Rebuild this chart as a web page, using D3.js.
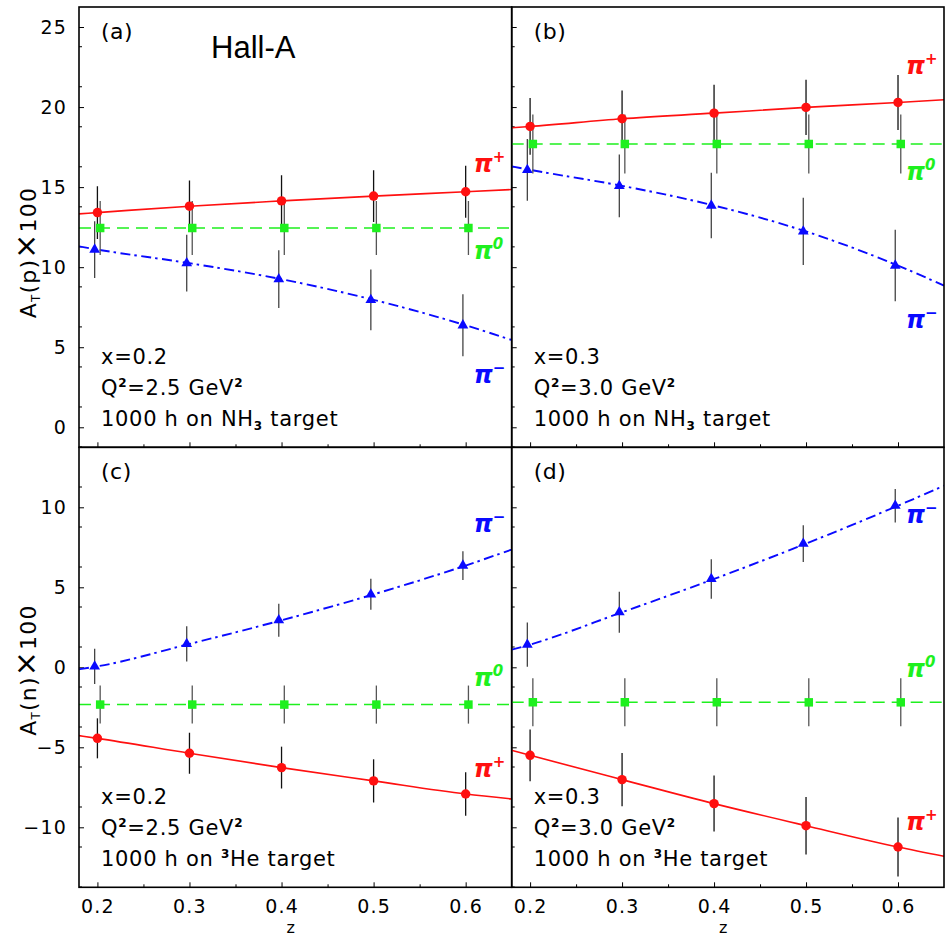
<!DOCTYPE html>
<html>
<head>
<meta charset="utf-8">
<script src="https://cdn.jsdelivr.net/npm/d3@7"></script>
<style>
  html, body { margin: 0; padding: 0; background: #fff; }
  svg { display: block; }
</style>
</head>
<body>
<svg id="chart" width="945" height="936"></svg>
<script>
// ---- data -------------------------------------------------------------
const zPoints = [0.2, 0.3, 0.4, 0.5, 0.6];
const zCurve  = [0.18, 0.2, 0.3, 0.4, 0.5, 0.6, 0.65];
const xTicks  = [0.2, 0.3, 0.4, 0.5, 0.6];
const yTicksProton  = [0, 5, 10, 15, 20, 25];
const yTicksNeutron = [-10, -5, 0, 5, 10];

// (a) proton, x=0.2
const aPlus      = [13.41, 13.81, 14.14, 14.44, 14.71];
const aPlusErr   = [1.65, 1.60, 1.60, 1.62, 1.62];
const aZero      = [12.45, 12.45, 12.45, 12.45, 12.45];
const aZeroErr   = [1.69, 1.69, 1.69, 1.69, 1.69];
const aMinus     = [11.10, 10.25, 9.25, 7.96, 6.37];
const aMinusErr  = [1.77, 1.77, 1.80, 1.90, 1.94];
const aPlusCurve  = [13.33, 13.41, 13.81, 14.14, 14.44, 14.71, 14.85];
const aZeroCurve  = [12.45, 12.45, 12.45, 12.45, 12.45, 12.45, 12.45];
const aMinusCurve = [11.30, 11.10, 10.25, 9.25, 7.96, 6.37, 5.45];

// (b) proton, x=0.3
const bPlus      = [18.79, 19.27, 19.62, 19.98, 20.29];
const bPlusErr   = [1.77, 1.77, 1.77, 1.73, 1.72];
const bZero      = [17.69, 17.69, 17.69, 17.69, 17.69];
const bZeroErr   = [1.84, 1.84, 1.84, 1.84, 1.84];
const bMinus     = [16.08, 15.08, 13.85, 12.23, 10.10];
const bMinusErr  = [1.93, 1.96, 2.05, 2.10, 2.23];
const bPlusCurve  = [18.71, 18.79, 19.27, 19.62, 19.98, 20.29, 20.46];
const bZeroCurve  = [17.69, 17.69, 17.69, 17.69, 17.69, 17.69, 17.69];
const bMinusCurve = [16.30, 16.08, 15.08, 13.85, 12.23, 10.10, 8.85];

// (c) neutron, x=0.2
const cPlus      = [-4.44, -5.37, -6.27, -7.10, -7.92];
const cPlusErr   = [1.25, 1.28, 1.31, 1.35, 1.36];
const cZero      = [-2.33, -2.33, -2.33, -2.33, -2.33];
const cZeroErr   = [1.19, 1.19, 1.19, 1.19, 1.19];
const cMinus     = [0.06, 1.46, 2.94, 4.56, 6.36];
const cMinusErr  = [1.10, 1.10, 1.03, 0.97, 0.90];
const cPlusCurve  = [-4.27, -4.44, -5.37, -6.27, -7.10, -7.92, -8.23];
const cZeroCurve  = [-2.33, -2.33, -2.33, -2.33, -2.33, -2.33, -2.33];
const cMinusCurve = [-0.12, 0.06, 1.46, 2.94, 4.56, 6.36, 7.36];

// (d) neutron, x=0.3
const dPlus      = [-5.50, -7.02, -8.52, -9.90, -11.23];
const dPlusErr   = [1.62, 1.67, 1.75, 1.80, 1.84];
const dZero      = [-2.19, -2.19, -2.19, -2.19, -2.19];
const dZeroErr   = [1.50, 1.50, 1.50, 1.50, 1.50];
const dMinus     = [1.42, 3.44, 5.52, 7.73, 10.10];
const dMinusErr  = [1.38, 1.28, 1.24, 1.15, 1.05];
const dPlusCurve  = [-5.19, -5.50, -7.02, -8.52, -9.90, -11.23, -11.81];
const dZeroCurve  = [-2.19, -2.19, -2.19, -2.19, -2.19, -2.19, -2.19];
const dMinusCurve = [1.10, 1.42, 3.44, 5.52, 7.73, 10.10, 11.35];

const panelTags = ["(a)", "(b)", "(c)", "(d)"];
const kinematics = [
  {x: "0.2", q2: "2.5", target: "NH3"},
  {x: "0.3", q2: "3.0", target: "NH3"},
  {x: "0.2", q2: "2.5", target: "3He"},
  {x: "0.3", q2: "3.0", target: "3He"}
];

// ---- layout -----------------------------------------------------------
const svg = d3.select("#chart");
const cols = [[79, 511.7], [511.7, 944]];
const rows = [[7, 447.3], [447.3, 887.3]];
const xDomain = [0.18, 0.65];
const yDomains = [[-1.25, 26.25], [-13.75, 13.75]];

const RED = "#ff1010", GREEN = "#1ef01e", BLUE = "#0a0aff";
const tickFont = "'DejaVu Sans', sans-serif";

const series = {
  plus:  {color: RED,   bar: "#111", symbol: d3.symbolCircle,   size: 70, dz: 0,      dash: null,      width: 1.6},
  zero:  {color: GREEN, bar: "#555", symbol: d3.symbolSquare,   size: 72, dz: 0.003,  dash: "12,7",    width: 1.5},
  minus: {color: BLUE,  bar: "#444", symbol: d3.symbolTriangle, size: 50, dz: -0.003, dash: "10,4,2.5,4.5", width: 1.9}
};

const panels = [
  {col: 0, row: 0, plus: [aPlus, aPlusErr, aPlusCurve], zero: [aZero, aZeroErr, aZeroCurve], minus: [aMinus, aMinusErr, aMinusCurve],
   labels: {plus: 172, zero: 259, minus: 383}},
  {col: 1, row: 0, plus: [bPlus, bPlusErr, bPlusCurve], zero: [bZero, bZeroErr, bZeroCurve], minus: [bMinus, bMinusErr, bMinusCurve],
   labels: {plus: 74, zero: 180, minus: 328}},
  {col: 0, row: 1, plus: [cPlus, cPlusErr, cPlusCurve], zero: [cZero, cZeroErr, cZeroCurve], minus: [cMinus, cMinusErr, cMinusCurve],
   labels: {plus: 777, zero: 686, minus: 532}},
  {col: 1, row: 1, plus: [dPlus, dPlusErr, dPlusCurve], zero: [dZero, dZeroErr, dZeroCurve], minus: [dMinus, dMinusErr, dMinusCurve],
   labels: {plus: 830, zero: 677, minus: 523}}
];

const superscripts = {plus: "+", zero: "0", minus: "\u2212"};

panels.forEach((p, i) => {
  const [x0, x1] = cols[p.col];
  const [y0, y1] = rows[p.row];
  const x = d3.scaleLinear().domain(xDomain).range([x0, x1]);
  const y = d3.scaleLinear().domain(yDomains[p.row]).range([y1, y0]);
  const g = svg.append("g");

  const clipId = "clip" + i;
  svg.append("clipPath").attr("id", clipId)
    .append("rect").attr("x", x0).attr("y", y0).attr("width", x1 - x0).attr("height", y1 - y0);

  // ticks (pointing inward)
  const majorY = p.row === 0 ? yTicksProton : yTicksNeutron;
  const minorY = d3.range(yDomains[p.row][0], yDomains[p.row][1] + 0.01, 2.5)
    .map(v => Math.round(v * 10) / 10).filter(v => !majorY.includes(v) && v > yDomains[p.row][0] && v < yDomains[p.row][1]);
  const yAxis = d3.axisLeft(y).tickValues(majorY).tickSize(-5).tickPadding(12)
    .tickFormat(p.col === 0 ? d3.format("d") : () => "");
  const ya = g.append("g").attr("transform", `translate(${x0},0)`).call(yAxis);
  ya.select(".domain").remove();
  ya.selectAll("text").attr("font-family", tickFont).attr("font-size", 19).attr("letter-spacing", 1.2).attr("fill", "#000");
  ya.selectAll("line").attr("stroke", "#000").attr("stroke-width", 1);
  const yMinor = g.append("g").attr("transform", `translate(${x0},0)`)
    .call(d3.axisLeft(y).tickValues(minorY).tickSize(-3).tickFormat(() => ""));
  yMinor.select(".domain").remove();
  yMinor.selectAll("line").attr("stroke", "#000");

  const xAxis = d3.axisBottom(x).tickValues(xTicks).tickSize(-5).tickPadding(12.5)
    .tickFormat(p.row === 1 ? d3.format(".1f") : () => "");
  const xa = g.append("g").attr("transform", `translate(0,${y1})`).call(xAxis);
  xa.select(".domain").remove();
  xa.selectAll("text").attr("font-family", tickFont).attr("font-size", 19).attr("letter-spacing", 1.2).attr("fill", "#000");
  xa.selectAll("line").attr("stroke", "#000");
  const xMinor = g.append("g").attr("transform", `translate(0,${y1})`)
    .call(d3.axisBottom(x).tickValues([0.25, 0.35, 0.45, 0.55]).tickSize(-3).tickFormat(() => ""));
  xMinor.select(".domain").remove();
  xMinor.selectAll("line").attr("stroke", "#000");

  const plot = g.append("g").attr("clip-path", `url(#${clipId})`);

  // model curves
  ["zero", "minus", "plus"].forEach(key => {
    const s = series[key];
    const curve = p[key][2];
    const line = d3.line().x((d, j) => x(zCurve[j])).y(d => y(d)).curve(d3.curveMonotoneX);
    plot.append("path").datum(curve)
      .attr("d", line).attr("fill", "none")
      .attr("stroke", s.color).attr("stroke-width", s.width)
      .attr("stroke-dasharray", s.dash);
  });

  // error bars
  ["zero", "minus", "plus"].forEach(key => {
    const s = series[key];
    const [vals, errs] = p[key];
    plot.append("g").selectAll("line").data(vals).join("line")
      .attr("x1", (d, j) => x(zPoints[j] + s.dz)).attr("x2", (d, j) => x(zPoints[j] + s.dz))
      .attr("y1", (d, j) => y(d - errs[j])).attr("y2", (d, j) => y(d + errs[j]))
      .attr("stroke", s.bar).attr("stroke-width", 1.3);
  });

  // markers
  ["zero", "minus", "plus"].forEach(key => {
    const s = series[key];
    const vals = p[key][0];
    plot.append("g").selectAll("path").data(vals).join("path")
      .attr("transform", (d, j) => `translate(${x(zPoints[j] + s.dz)},${y(d)})`)
      .attr("d", d3.symbol().type(s.symbol).size(s.size))
      .attr("fill", s.color);
  });

  // pion labels
  ["plus", "zero", "minus"].forEach(key => {
    const t = g.append("text")
      .attr("x", x1 - 38).attr("y", p.labels[key])
      .attr("font-family", tickFont).attr("font-size", 24)
      .attr("font-style", "italic").attr("font-weight", "bold")
      .attr("fill", series[key].color);
    t.append("tspan").text("\u03C0");
    t.append("tspan").attr("dy", -10).attr("font-size", 15).text(superscripts[key]);
  });

  // panel tag
  g.append("text").attr("x", x0 + 22).attr("y", y0 + 32)
    .attr("font-family", tickFont).attr("font-size", 22).attr("letter-spacing", 0.5)
    .text(panelTags[i]);

  // kinematic annotation
  const k = kinematics[i];
  const ann = g.append("g").attr("font-family", tickFont).attr("font-size", 21)
    .attr("letter-spacing", 0.7).attr("fill", "#000");
  const base = y0 + 357;
  ann.append("text").attr("x", x0 + 22).attr("y", base).text("x=" + k.x);
  const q = ann.append("text").attr("x", x0 + 22).attr("y", base + 31);
  q.append("tspan").text("Q");
  q.append("tspan").attr("dy", -8).attr("font-size", 12).attr("font-weight", "bold").text("2");
  q.append("tspan").attr("dy", 8).text("=" + k.q2 + " GeV");
  q.append("tspan").attr("dy", -8).attr("font-size", 12).attr("font-weight", "bold").text("2");
  const tl = ann.append("text").attr("x", x0 + 22).attr("y", base + 62);
  if (k.target === "NH3") {
    tl.append("tspan").text("1000 h on NH");
    tl.append("tspan").attr("dy", 4).attr("font-size", 12).attr("font-weight", "bold").text("3");
    tl.append("tspan").attr("dy", -4).text(" target");
  } else {
    tl.append("tspan").text("1000 h on ");
    tl.append("tspan").attr("dy", -8).attr("font-size", 12).attr("font-weight", "bold").text("3");
    tl.append("tspan").attr("dy", 8).text("He target");
  }

  // frame
  g.append("rect").attr("x", x0).attr("y", y0).attr("width", x1 - x0).attr("height", y1 - y0)
    .attr("fill", "none").attr("stroke", "#000").attr("stroke-width", 1.6);

  // z label under bottom panels
  if (p.row === 1) {
    g.append("text").attr("x", x(0.41)).attr("y", 933).attr("text-anchor", "middle")
      .attr("font-family", tickFont).attr("font-size", 16).text("z");
  }
});

// experiment label
svg.append("text").attr("x", 211).attr("y", 58)
  .attr("font-family", "'Liberation Sans', Arial, sans-serif").attr("font-size", 31)
  .text("Hall-A");

// y-axis titles
[["p", 36, 252.5], ["n", 36, 670]].forEach(([nucleon, tx, ty]) => {
  const t = svg.append("text")
    .attr("transform", `translate(${tx},${ty}) rotate(-90)`)
    .attr("text-anchor", "middle")
    .attr("font-family", tickFont).attr("font-size", 22).attr("letter-spacing", 1.2);
  t.append("tspan").text("A");
  t.append("tspan").attr("dy", 4).attr("font-size", 12).text("T");
  t.append("tspan").attr("dy", -4).text("(" + nucleon + ")");
  t.append("tspan").attr("font-size", 30).text("\u00D7");
  t.append("tspan").text("100");
});
</script>
</body>
</html>
